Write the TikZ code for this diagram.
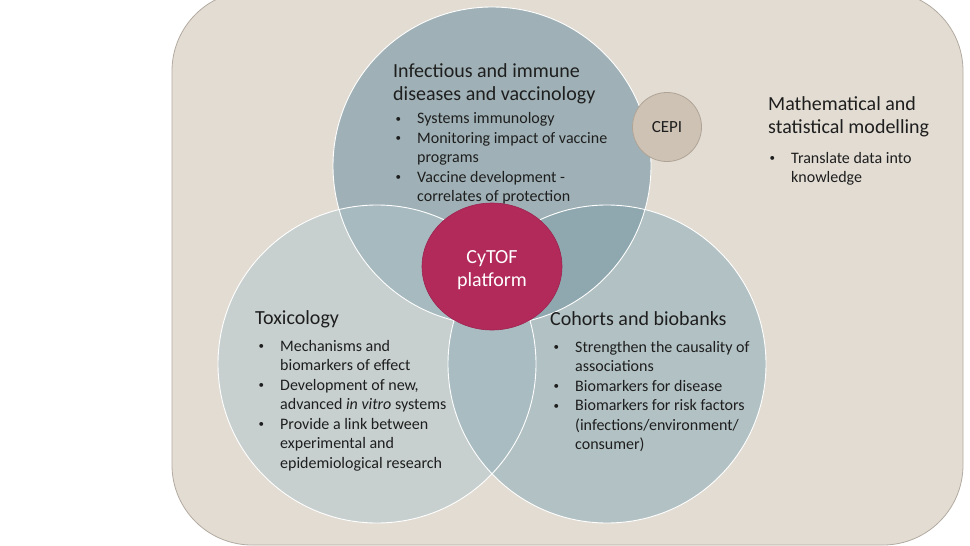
\documentclass[tikz,border=0pt]{standalone}
\usepackage{fontspec}
\setmainfont{Carlito}
\usetikzlibrary{shapes.geometric}
\definecolor{bgfill}{HTML}{E2DCD3}
\definecolor{bgline}{HTML}{B3ABA1}
\definecolor{ctop}{HTML}{9FB1B6}
\definecolor{cleft}{HTML}{C7D0CF}
\definecolor{cright}{HTML}{B2C1C3}
\definecolor{ctl}{HTML}{A7BABF}
\definecolor{ctr}{HTML}{8FA8AF}
\definecolor{clr}{HTML}{A9BCC1}
\definecolor{cytof}{HTML}{B22A5A}
\definecolor{cytofline}{HTML}{9C2350}
\definecolor{cepifill}{HTML}{CDC2B4}
\definecolor{cepiline}{HTML}{B0A496}
\definecolor{txt}{HTML}{1E1E1E}
\newcommand\mybul{\makebox[22.5pt][l]{\hspace*{1pt}{\fontsize{11}{11}\selectfont\raisebox{1.4pt}{\textbullet}}}}
\newcommand\myind{\hspace*{22.5pt}}
\tikzset{
  titletext/.style={anchor=base west, inner sep=0pt, text=txt, font=\fontsize{20}{23.5}\selectfont},
  itemtext/.style={anchor=base west, inner sep=0pt, text=txt, font=\fontsize{16}{19.5}\selectfont},
  venn/.style={white, line width=0.9pt},
}
\begin{document}
\begin{tikzpicture}[x=1pt,y=-1pt]
\useasboundingbox (0,0) rectangle (970,546);
% background panel
\draw[bgline, fill=bgfill, line width=0.8pt, rounded corners=80pt] (172,-9) rectangle (963,545);
% circle centres
\coordinate (ct) at (492,166);
\coordinate (cl) at (377,364);
\coordinate (cr) at (607,364);
% base fills
\fill[cleft] (cl) circle (159pt);
\fill[cright] (cr) circle (159pt);
\fill[ctop] (ct) circle (159pt);
% intersections
\begin{scope}
  \clip (ct) circle (159pt);
  \fill[ctl] (cl) circle (159pt);
  \fill[ctr] (cr) circle (159pt);
\end{scope}
\begin{scope}
  \clip (cl) circle (159pt);
  \clip (cr) circle (159pt);
  \fill[clr] (cl) circle (159pt);
  \clip (ct) circle (159pt);
  \fill[ctl] (cl) circle (159pt);
\end{scope}
% white outlines
\draw[venn] (ct) circle (159pt);
\draw[venn] (cl) circle (159pt);
\draw[venn] (cr) circle (159pt);
% CEPI
\node[circle, minimum size=69pt, inner sep=0pt, fill=cepifill, draw=cepiline, line width=0.8pt, text=txt, font=\fontsize{17}{20}\selectfont] (cepi) at (667,127) {CEPI};
% CyTOF
\node[ellipse, minimum width=140pt, minimum height=127pt, inner sep=0pt, fill=cytof, draw=cytofline, line width=0.6pt] (cytof) at (492,266.5) {};
\node[anchor=base, inner sep=0pt, text=white, font=\fontsize{20}{23}\selectfont] (cytoftxt) at (492,263) {\begin{tabular}[t]{@{}c@{}}CyTOF\\platform\end{tabular}};
% Infectious
\node[titletext] (inftitle) at (393,77) {\begin{tabular}[t]{@{}l@{}}Infectious and immune\\diseases and vaccinology\end{tabular}};
\node[itemtext] (infitems) at (394.5,123.5) {\begin{tabular}[t]{@{}l@{}}\mybul Systems immunology\\\mybul Monitoring impact of vaccine\\\myind programs\\\mybul Vaccine development -\\\myind correlates of protection\end{tabular}};
% Toxicology
\node[titletext] (toxtitle) at (255,324) {\begin{tabular}[t]{@{}l@{}}Toxicology\end{tabular}};
\node[itemtext] (toxitems) at (257.5,351) {\begin{tabular}[t]{@{}l@{}}\mybul Mechanisms and\\\myind biomarkers of effect\\\mybul Development of new,\\\myind advanced \textit{in vitro} systems\\\mybul Provide a link between\\\myind experimental and\\\myind epidemiological research\end{tabular}};
% Cohorts
\node[titletext] (cohtitle) at (550,325) {\begin{tabular}[t]{@{}l@{}}Cohorts and biobanks\end{tabular}};
\node[itemtext] (cohitems) at (552.5,352) {\begin{tabular}[t]{@{}l@{}}\mybul Strengthen the causality of\\\myind associations\\\mybul Biomarkers for disease\\\mybul Biomarkers for risk factors\\\myind (infections/environment/\\\myind consumer)\end{tabular}};
% Mathematical
\node[titletext] (mathtitle) at (768,110) {\begin{tabular}[t]{@{}l@{}}Mathematical and\\statistical modelling\end{tabular}};
\node[itemtext] (mathitems) at (768.5,163) {\begin{tabular}[t]{@{}l@{}}\mybul Translate data into\\\myind knowledge\end{tabular}};
\end{tikzpicture}
\end{document}
